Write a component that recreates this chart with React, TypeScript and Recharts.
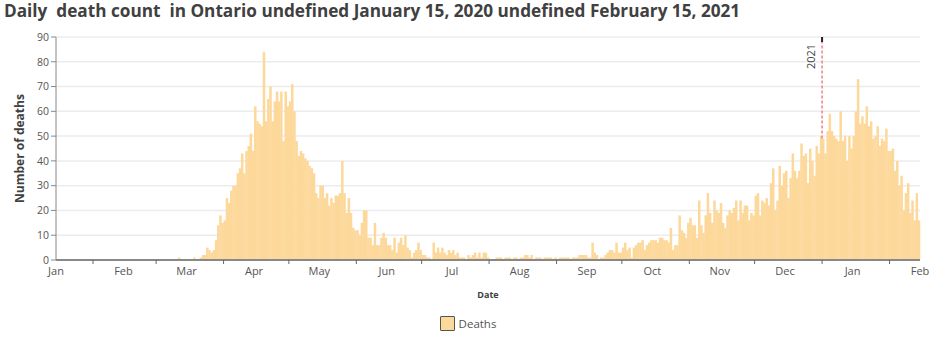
import { BarChart, Bar, XAxis, YAxis, CartesianGrid, ReferenceLine, Legend } from "recharts";

const FONT = "'Open Sans', sans-serif";
const BAR_COLOR = "#fdd89b";

// daily deaths, one array per month, index 0 = 1st of the month
const mar2020 = [0, 0, 0, 0, 0, 0, 0, 0, 0, 0, 1, 0, 0, 0, 0, 0, 0, 1, 0, 0, 1, 2, 2, 5, 4, 3, 4, 8, 14, 18, 15];
const apr2020 = [16, 25, 23, 28, 30, 30, 35, 37, 43, 35, 44, 46, 51, 44, 62, 56, 55, 54, 84, 56, 65, 70, 56, 64, 68, 64, 68, 48, 68, 62];
const may2020 = [64, 71, 60, 48, 42, 44, 43, 41, 40, 38, 37, 35, 27, 25, 30, 30, 25, 27, 22, 25, 23, 26, 26, 27, 40, 27, 19, 25, 19, 13, 12];
const jun2020 = [12, 10, 15, 20, 20, 9, 9, 6, 15, 6, 6, 9, 11, 9, 6, 6, 4, 9, 3, 7, 9, 6, 10, 5, 4, 1, 3, 4, 7, 4];
const jul2020 = [2, 2, 1, 1, 0, 7, 3, 5, 3, 5, 3, 2, 4, 3, 4, 2, 3, 1, 1, 1, 0, 2, 1, 2, 3, 1, 3, 1, 3, 3, 1];
const aug2020 = [0, 0, 0, 1, 1, 1, 0, 1, 1, 1, 0, 1, 1, 0, 1, 1, 2, 2, 1, 2, 0, 1, 1, 1, 0, 1, 1, 1, 1, 0, 1];
const sep2020 = [0, 1, 1, 1, 1, 1, 0, 1, 1, 1, 2, 2, 2, 2, 1, 1, 7, 3, 2, 0, 1, 1, 2, 3, 4, 4, 3, 7, 3, 3];
const oct2020 = [5, 7, 4, 5, 1, 5, 6, 7, 7, 8, 4, 6, 7, 8, 8, 8, 7, 9, 9, 8, 8, 7, 13, 4, 6, 6, 18, 12, 11, 9, 15];
const nov2020 = [17, 14, 14, 9, 24, 14, 11, 18, 27, 19, 15, 24, 20, 19, 23, 15, 13, 18, 20, 19, 21, 24, 16, 24, 19, 22, 22, 16, 19, 18];
const dec2020 = [26, 27, 18, 24, 23, 25, 22, 31, 37, 20, 24, 38, 30, 35, 36, 25, 33, 43, 36, 33, 36, 47, 42, 43, 31, 45, 40, 34, 46, 43, 50];
const jan2021 = [49, 43, 52, 59, 52, 50, 49, 48, 60, 48, 50, 40, 50, 45, 50, 60, 73, 55, 58, 55, 62, 54, 56, 49, 50, 54, 46, 49, 48, 53, 44];
const feb2021 = [44, 45, 36, 40, 30, 34, 20, 27, 31, 19, 24, 16, 27, 16];

const monthSeries = [
  { year: 2020, month: 2, deaths: mar2020 },
  { year: 2020, month: 3, deaths: apr2020 },
  { year: 2020, month: 4, deaths: may2020 },
  { year: 2020, month: 5, deaths: jun2020 },
  { year: 2020, month: 6, deaths: jul2020 },
  { year: 2020, month: 7, deaths: aug2020 },
  { year: 2020, month: 8, deaths: sep2020 },
  { year: 2020, month: 9, deaths: oct2020 },
  { year: 2020, month: 10, deaths: nov2020 },
  { year: 2020, month: 11, deaths: dec2020 },
  { year: 2021, month: 0, deaths: jan2021 },
  { year: 2021, month: 1, deaths: feb2021 },
];

const tickLabels = ["Jan", "Feb", "Mar", "Apr", "May", "Jun", "Jul", "Aug", "Sep", "Oct", "Nov", "Dec", "Jan", "Feb"];
const yTicks = [0, 10, 20, 30, 40, 50, 60, 70, 80, 90];

const START = Date.UTC(2020, 0, 15);
const dayIndex = (y: number, m: number, d: number) => Math.round((Date.UTC(y, m, d) - START) / 86400000);

const data = monthSeries.flatMap(({ year, month, deaths }) =>
  deaths.map((v, i) => ({ day: dayIndex(year, month, i + 1) + 0.5, deaths: v }))
);

// month names sit on the 15th, tick marks on the 1st
const labelDays = tickLabels.map((_, i) => dayIndex(2020, i, 15));
const monthStarts = tickLabels.slice(1).map((_, i) => dayIndex(2020, i + 1, 1));
const END = dayIndex(2021, 1, 15);
const YEAR_MARK = dayIndex(2021, 0, 1);

function DateTick(props: any) {
  const { x, y, payload } = props;
  const i = labelDays.indexOf(payload.value);
  if (i >= 0) {
    return (
      <text x={x} y={y + 9.5} textAnchor="middle" fontSize={11} fill="#555" fontFamily={FONT}>
        {tickLabels[i]}
      </text>
    );
  }
  return <line x1={x} x2={x} y1={y - 5} y2={y - 1} stroke="#666" strokeWidth={1} />;
}

// recharts shrinks bars to 90% of the day slot; stretch them back so the days touch
function DayBar(props: any) {
  const { x, y, width, height, fill } = props;
  if (!height || height <= 0) return null;
  const full = width / 0.9 + 0.3;
  const cx = x + width / 2;
  return <rect x={cx - full / 2} y={y} width={full} height={height} fill={fill} />;
}

function YearLabel(props: any) {
  const { viewBox } = props;
  const x = viewBox.x;
  const y = viewBox.y;
  return (
    <g>
      <line x1={x} x2={x} y1={y} y2={y + 5} stroke="#222" strokeWidth={2} />
      <text
        x={x - 7}
        y={y + 19.5}
        transform={`rotate(-90, ${x - 7}, ${y + 19.5})`}
        textAnchor="middle"
        fontSize={11}
        fill="#444"
        fontFamily={FONT}
      >
        2021
      </text>
    </g>
  );
}

function DeathsLegend() {
  return (
    <div
      style={{
        display: "flex",
        justifyContent: "center",
        alignItems: "center",
        height: 36,
        fontFamily: FONT,
        fontSize: 11.5,
        color: "#555",
      }}
    >
      <span
        style={{
          width: 13,
          height: 13,
          background: BAR_COLOR,
          border: "1.5px solid #555",
          borderRadius: 1,
          marginRight: 4,
        }}
      />
      Deaths
    </div>
  );
}

export default function App() {
  return (
    <div style={{ position: "absolute", left: 0, top: 0, width: 936, height: 357, background: "#fff" }}>
      <div
        style={{
          position: "absolute",
          left: 4,
          top: 1,
          fontFamily: FONT,
          fontWeight: 700,
          fontSize: 17.2,
          lineHeight: "20px",
          color: "#404040",
          whiteSpace: "pre",
        }}
      >
        {"Daily  death count  in Ontario undefined January 15, 2020 undefined February 15, 2021"}
      </div>
      <BarChart width={936} height={357} data={data} margin={{ top: 37, right: 16, bottom: 16, left: 0 }}>
        <CartesianGrid vertical={false} stroke="#ececec" strokeWidth={1.5} />
        <XAxis
          dataKey="day"
          type="number"
          domain={[0, END]}
          ticks={[...labelDays, ...monthStarts].sort((a, b) => a - b)}
          interval={0}
          tick={<DateTick />}
          tickLine={false}
          tickSize={5}
          tickMargin={0}
          axisLine={{ stroke: "#888", strokeWidth: 2 }}
          height={45}
          label={{
            value: "Date",
            position: "insideBottom",
            offset: 7,
            style: { fontFamily: FONT, fontSize: 9, fontWeight: 700, fill: "#404040" },
          }}
        />
        <YAxis
          domain={[0, 90]}
          ticks={yTicks}
          width={56}
          tick={{ fontSize: 10.5, fill: "#555", fontFamily: FONT }}
          tickSize={5}
          tickLine={{ stroke: "#888" }}
          axisLine={{ stroke: "#888" }}
          label={{
            content: (p: any) => {
              const vb = p.viewBox;
              const cx = vb.x + 23.5;
              const cy = vb.y + vb.height / 2;
              return (
                <text
                  x={cx}
                  y={cy}
                  transform={`rotate(-90, ${cx}, ${cy})`}
                  textAnchor="middle"
                  fontFamily={FONT}
                  fontSize={12}
                  fontWeight={700}
                  fill="#404040"
                >
                  Number of deaths
                </text>
              );
            },
          }}
        />
        <Legend verticalAlign="bottom" height={36} wrapperStyle={{ left: 0, width: 936 }} content={<DeathsLegend />} />
        <Bar dataKey="deaths" name="Deaths" fill={BAR_COLOR} shape={<DayBar />} isAnimationActive={false} />
        <ReferenceLine
          segment={[
            { x: YEAR_MARK, y: jan2021[0] },
            { x: YEAR_MARK, y: 90 },
          ]}
          stroke="#f0808a"
          strokeWidth={1.5}
          strokeDasharray="3 2"
          ifOverflow="visible"
          label={<YearLabel />}
        />
      </BarChart>
    </div>
  );
}
